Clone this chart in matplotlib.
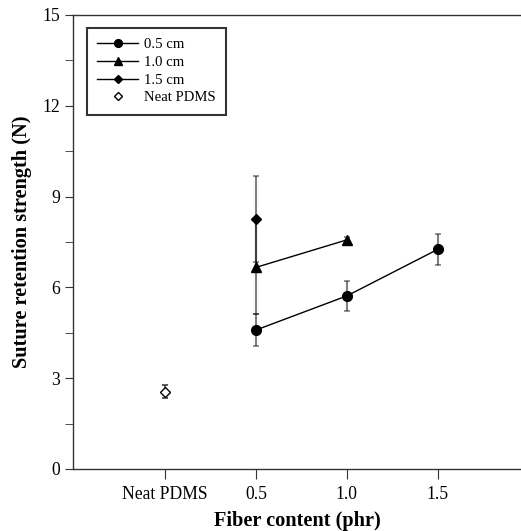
import matplotlib
matplotlib.use('Agg')
from matplotlib import pyplot as plt
from matplotlib.ticker import MultipleLocator

plt.rcParams['font.family'] = ['Liberation Serif', 'DejaVu Serif']

# fiber content (phr); Neat PDMS is placed at 0
x_05 = [0.5, 1.0, 1.5]
y_05 = [4.59, 5.72, 7.26]
e_05 = [0.53, 0.50, 0.51]

x_10 = [0.5, 1.0]
y_10 = [6.66, 7.57]
e_10 = [1.54, 0.08]

x_15 = [0.5]
y_15 = [8.27]
e_15 = [1.42]

x_neat = [0]
y_neat = [2.55]
e_neat = [0.21]

tick_pos = [0, 0.5, 1.0, 1.5]
tick_labels = ['Neat PDMS', '0.5', '1.0', '1.5']

fig = plt.figure(figsize=(5.21, 5.31), dpi=100)
ax = fig.add_axes([0.140, 0.1168, 0.860, 0.855])

ecol = (0, 0, 0, 0.5)
ax.errorbar(x_05, y_05, yerr=e_05, fmt='none', ecolor=ecol, elinewidth=1.5, capsize=2.2, capthick=1.2, zorder=2)
ax.errorbar(x_10, y_10, yerr=e_10, fmt='none', ecolor=ecol, elinewidth=1.5, capsize=2.2, capthick=1.2, zorder=2)
ax.errorbar(x_15, y_15, yerr=e_15, fmt='none', ecolor=ecol, elinewidth=1.5, capsize=2.2, capthick=1.2, zorder=2)
ax.errorbar(x_neat, y_neat, yerr=e_neat, fmt='none', ecolor='#404040', elinewidth=1.2, capsize=2.2, capthick=1.2, zorder=2)

ax.plot(x_05, y_05, color='black', lw=1, marker='o', ms=7, label='0.5 cm', zorder=3)
ax.plot(x_10, y_10, color='black', lw=1, marker='^', ms=6.5, label='1.0 cm', zorder=3)
ax.plot(x_15, y_15, color='black', lw=1, marker='D', ms=5.3, label='1.5 cm', zorder=3)
ax.plot(x_neat, y_neat, ls='none', marker='D', ms=5.3, mfc='white', mec='black', mew=1, label='Neat PDMS', zorder=3)

ax.set_xlim(-0.505, 1.956)
ax.set_ylim(0, 15)
ax.set_xticks(tick_pos)
ax.set_xticklabels(tick_labels)
ax.yaxis.set_major_locator(MultipleLocator(3))
ax.yaxis.set_minor_locator(MultipleLocator(1.5))
ax.tick_params(axis='both', which='both', direction='out', labelsize=12.7, color='#333333')
ax.tick_params(axis='x', which='major', length=7, pad=5)
ax.tick_params(axis='y', which='both', length=6, pad=3)
ax.tick_params(axis='x', which='minor', bottom=False)

for s in ['left', 'bottom', 'top']:
    ax.spines[s].set_color('#333333')
    ax.spines[s].set_linewidth(1)
ax.spines['right'].set_visible(False)

ax.set_xlabel('Fiber content (phr)', fontsize=14.6, fontweight='bold', labelpad=6)
ax.set_ylabel('Suture retention strength (N)', fontsize=14.6, fontweight='bold', labelpad=8)

leg = ax.legend(loc='upper left', bbox_to_anchor=(0.031, 0.972), fontsize=10.6,
                frameon=True, fancybox=False, handlelength=2.8, handletextpad=0.35,
                labelspacing=0.3, borderpad=0.7, borderaxespad=0, markerscale=0.8,
                edgecolor='black')
leg.get_frame().set_linewidth(1.5)

plt.savefig('out.png', dpi=100)
